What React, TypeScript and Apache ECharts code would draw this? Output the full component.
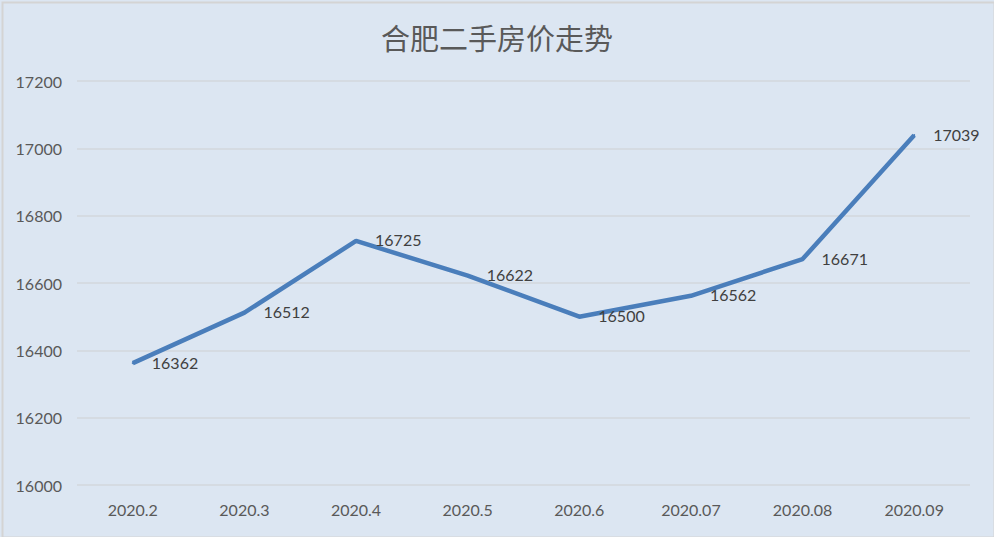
import React, { useEffect, useRef } from "react";
import * as echarts from "echarts";

const categories = ["2020.2", "2020.3", "2020.4", "2020.5", "2020.6", "2020.07", "2020.08", "2020.09"];
const prices = [16362, 16512, 16725, 16622, 16500, 16562, 16671, 17039];
const yMin = 16000;
const yMax = 17200;
const yStep = 200;

export default function App() {
  const ref = useRef<HTMLDivElement>(null);
  useEffect(() => {
    if (!ref.current) return;
    document.body.style.margin = "0";
    const chart = echarts.init(ref.current, undefined, { renderer: "svg" });
    chart.setOption({
      animation: false,
      backgroundColor: "#dce6f2",
      graphic: [
        {
          type: "rect",
          left: 0,
          top: 0,
          shape: { x: 1, y: 1, width: 992, height: 535 },
          style: { fill: "none", stroke: "#d4d4d4", lineWidth: 2 },
          silent: true,
        },
      ],
      title: {
        text: "合肥二手房价走势",
        left: "center",
        top: 17,
        textStyle: {
          fontFamily: "Noto Sans CJK SC",
          fontSize: 29,
          fontWeight: "normal",
          color: "#595959",
        },
      },
      grid: { left: 77, right: 24, top: 81, bottom: 52 },
      xAxis: {
        type: "category",
        data: categories,
        boundaryGap: true,
        axisLine: { show: false },
        axisTick: { show: false },
        axisLabel: { color: "#595959", fontFamily: "Lato", fontSize: 16, margin: 16 },
      },
      yAxis: {
        type: "value",
        min: yMin,
        max: yMax,
        interval: yStep,
        axisLine: { show: false },
        axisTick: { show: false },
        axisLabel: {
          color: "#595959",
          fontFamily: "Lato",
          fontSize: 16,
          margin: 15,
          formatter: (v: number) => String(v),
        },
        splitLine: { lineStyle: { color: "#d3d7dc", width: 1.5 } },
      },
      series: [
        {
          type: "line",
          data: prices,
          symbol: "circle",
          symbolSize: 2,
          itemStyle: { color: "#4a7ebb", borderWidth: 0 },
          lineStyle: { color: "#4a7ebb", width: 4.5 },
          label: {
            show: true,
            position: "right",
            distance: 18,
            offset: [0, -1],
            color: "#404040",
            fontFamily: "Lato",
            fontSize: 16,
          },
        },
      ],
    });
    return () => chart.dispose();
  }, []);
  return (
    <div
      ref={ref}
      style={{
        position: "fixed",
        left: 0,
        top: 0,
        width: 994,
        height: 537,
      }}
    />
  );
}
